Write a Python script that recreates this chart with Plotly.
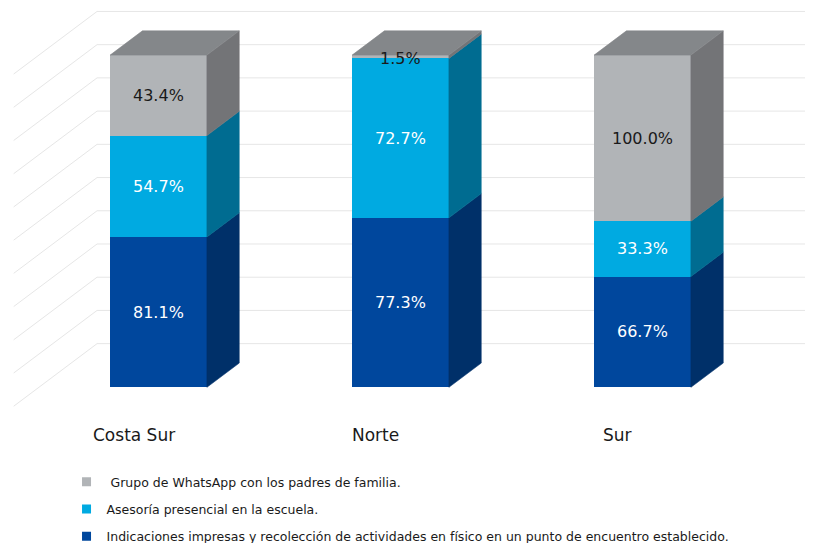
import plotly.graph_objects as go

# ---------------- data ----------------
regions = ["Costa Sur", "Norte", "Sur"]
series_names = [
    "Indicaciones impresas y recolección de actividades en físico en un punto de encuentro establecido.",
    "Asesoría presencial en la escuela.",
    " Grupo de WhatsApp con los padres de familia.",
]
impresas = [81.1, 77.3, 66.7]
asesoria = [54.7, 72.7, 33.3]
whatsapp = [43.4, 1.5, 100.0]
grid_levels = [0, 10, 20, 30, 40, 50, 60, 70, 80, 90, 100]

# ---------------- style ----------------
front_colors = ["#00479D", "#00AAE1", "#B1B4B7"]
side_colors = ["#003069", "#006C91", "#737477"]
top_color = "#84878A"
label_colors = ["#FFFFFF", "#FFFFFF", "#1A1A1A"]
grid_color = "#E6E6E6"
FONT = "DejaVu Sans"

BAR_W = 0.40      # bar width in category units
DX, DY = 0.1335, 7.3   # 3D depth offset (x units, y units)
WALL_DEPTH = 1.8  # back wall depth (multiples of bar depth)
WALL_X = -0.254   # left edge of back wall (x units)
DIAG = 2.58       # diagonal line length (multiples of depth)

series = [impresas, asesoria, whatsapp]
totals = [sum(v) for v in zip(*series)]
shares = [[v / t * 100 for v, t in zip(s, totals)] for s in series]
xs = list(range(len(regions)))

fig = go.Figure()

# front faces (stacked bars, normalised to 100 %)
for k in range(len(series)):
    fig.add_trace(go.Bar(
        x=xs, y=shares[k], width=BAR_W,
        marker=dict(color=front_colors[k], line=dict(width=0)),
        showlegend=False, hoverinfo="skip",
    ))

# side faces
bases = [0.0] * len(xs)
for k in range(len(series)):
    px, py = [], []
    for i in xs:
        y0 = bases[i]
        y1 = y0 + shares[k][i]
        xr = i + BAR_W / 2
        px += [xr, xr + DX, xr + DX, xr, xr, None]
        py += [y0, y0 + DY, y1 + DY, y1, y0, None]
        bases[i] = y1
    fig.add_trace(go.Scatter(
        x=px, y=py, mode="lines", fill="toself", fillcolor=side_colors[k],
        line=dict(width=0.6, color=side_colors[k]), showlegend=False, hoverinfo="skip",
    ))

# top faces
tx, ty = [], []
for i in xs:
    top = bases[i]
    xl, xr = i - BAR_W / 2, i + BAR_W / 2
    tx += [xl, xl + DX, xr + DX, xr, xl, None]
    ty += [top, top + DY, top + DY, top, top, None]
fig.add_trace(go.Scatter(
    x=tx, y=ty, mode="lines", fill="toself", fillcolor=top_color,
    line=dict(width=0.6, color=top_color), showlegend=False, hoverinfo="skip",
))

# legend entries (display order: WhatsApp, Asesoría, Impresas)
for k in [2, 1, 0]:
    fig.add_trace(go.Scatter(
        x=[None], y=[None], mode="markers", name=series_names[k],
        marker=dict(symbol="square", size=9, color=front_colors[k]),
        legendgroup=f"g{k}", showlegend=True,
    ))

# grid lines (back wall + diagonals) as shapes below traces
shapes = []
for g in grid_levels:
    yw = g + WALL_DEPTH * DY
    shapes.append(dict(type="line", xref="x", yref="y", x0=WALL_X, x1=3.0, y0=yw, y1=yw,
                       line=dict(color=grid_color, width=1), layer="below"))
    shapes.append(dict(type="line", xref="x", yref="y", x0=WALL_X, x1=WALL_X - DIAG * DX,
                       y0=yw, y1=yw - DIAG * DY,
                       line=dict(color=grid_color, width=1), layer="below"))

# value labels
annotations = []
bases = [0.0] * len(xs)
for k in range(len(series)):
    for i in xs:
        mid = bases[i] + shares[k][i] / 2
        annotations.append(dict(
            x=i, y=mid, xref="x", yref="y", text=f"{series[k][i]:.1f}%",
            showarrow=False, yshift=-2 if shares[k][i] < 3 else 0,
            font=dict(family=FONT, size=16, color=label_colors[k]),
        ))
        bases[i] += shares[k][i]

# category labels
for i, r in zip(xs, regions):
    annotations.append(dict(
        x=i, y=-14.4, xref="x", yref="y", text=r, showarrow=False,
        xshift=-25, font=dict(family=FONT, size=17, color="#1A1A1A"),
    ))

# the page body adds an 8 px margin, so the figure is 8 px smaller than the window
fig.update_layout(
    width=805, height=535,
    margin=dict(l=0, r=0, t=0, b=0, autoexpand=False),
    paper_bgcolor="white", plot_bgcolor="white",
    barmode="stack",
    xaxis=dict(range=[-0.622, 2.7045], visible=False, fixedrange=True),
    yaxis=dict(range=[-46.87, 114.18], visible=False, fixedrange=True),
    shapes=shapes,
    annotations=annotations,
    showlegend=True,
    legend=dict(
        x=0.0727, y=0.142, xanchor="left", yanchor="top",
        traceorder="grouped", tracegroupgap=8,
        font=dict(family=FONT, size=12.5, color="#1A1A1A"),
        bgcolor="rgba(0,0,0,0)", borderwidth=0,
    ),
    font=dict(family=FONT),
)

fig.write_html("out.html")
